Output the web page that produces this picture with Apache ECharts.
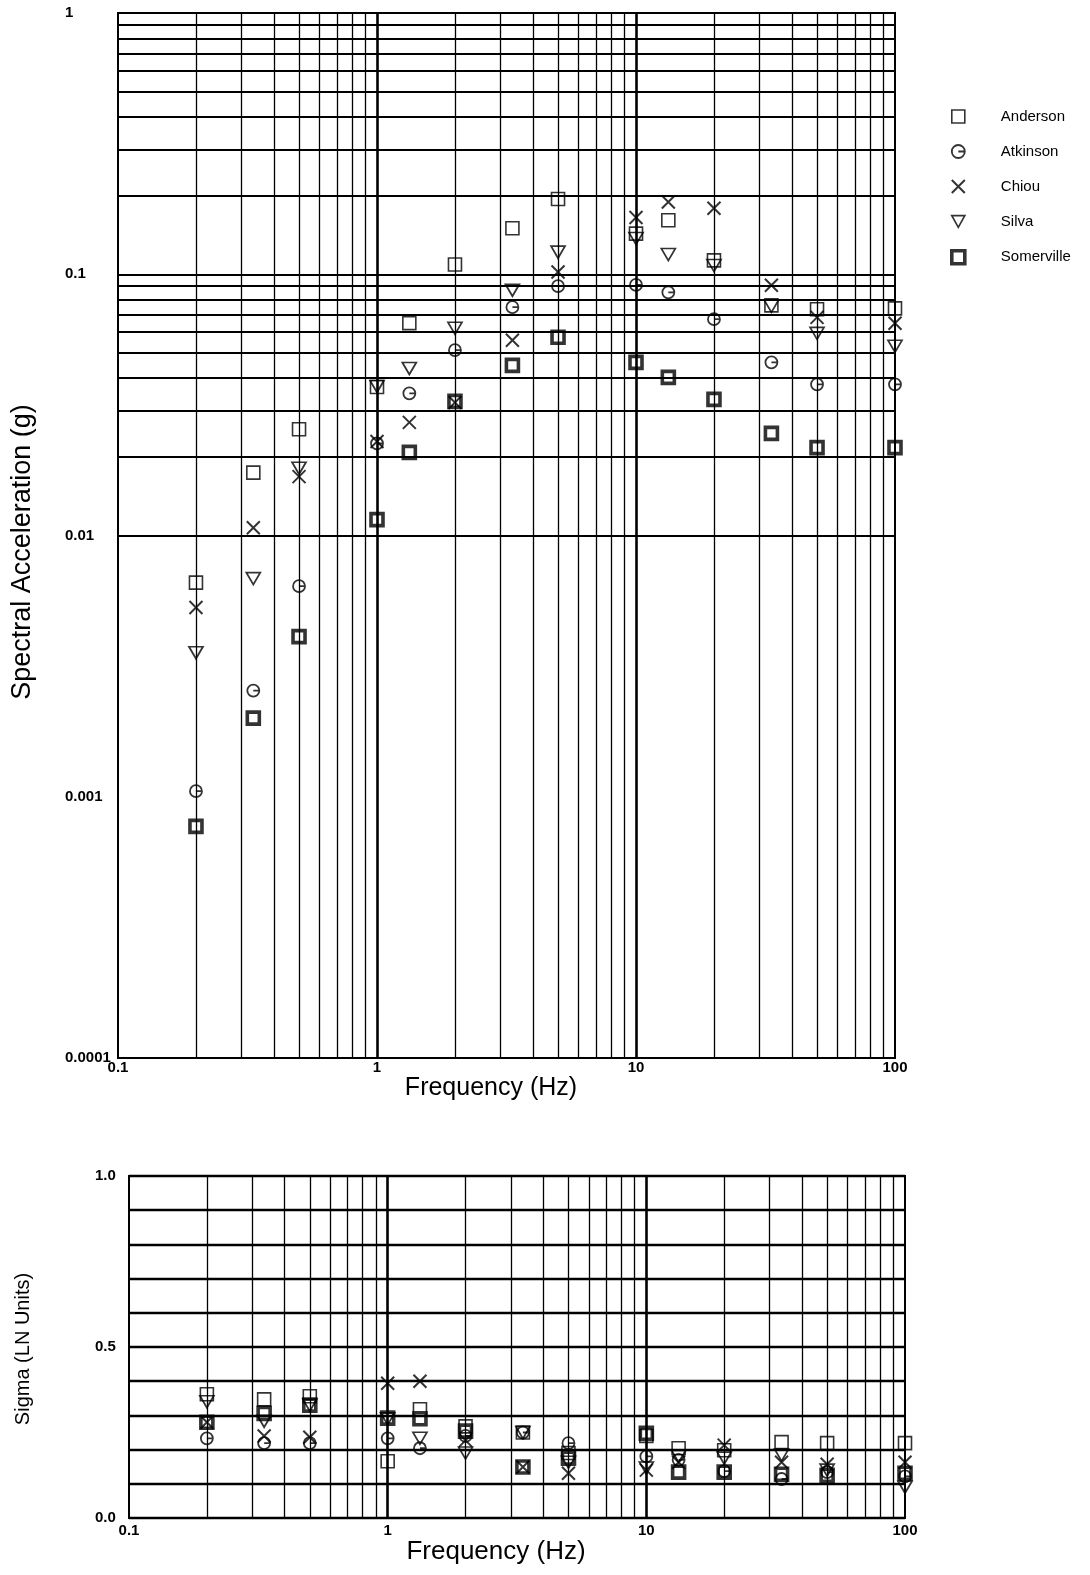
<!DOCTYPE html>
<html>
<head>
<meta charset="utf-8">
<script src="https://cdn.jsdelivr.net/npm/echarts@6/dist/echarts.min.js"></script>
<style>
  html, body { margin: 0; padding: 0; background: #fff; }
  #chart { width: 1090px; height: 1575px; }
</style>
</head>
<body>
<div id="chart"></div>
<script>
// Oscillator frequencies (Hz) shared by both panels
const frequencies = [0.2, 0.333, 0.5, 1, 1.333, 2, 3.333, 5, 10, 13.33, 20, 33.33, 50, 100];

// Median spectral acceleration (g) for each attenuation model
const saAnderson   = [0.0066, 0.0174, 0.0255, 0.037, 0.065, 0.109, 0.15, 0.194, 0.143, 0.161, 0.113, 0.076, 0.0735, 0.074];
const saAtkinson   = [0.00105, 0.00255, 0.0064, 0.0225, 0.035, 0.0512, 0.0748, 0.09, 0.091, 0.0853, 0.0673, 0.046, 0.0379, 0.0379];
const saChiou      = [0.0053, 0.0107, 0.0168, 0.0229, 0.0271, 0.0323, 0.0559, 0.102, 0.165, 0.189, 0.179, 0.0907, 0.0684, 0.0649];
const saSilva      = [0.00356, 0.00684, 0.0181, 0.0372, 0.0436, 0.0621, 0.0869, 0.1215, 0.137, 0.119, 0.108, 0.0754, 0.0594, 0.053];
const saSomerville = [0.00077, 0.002, 0.0041, 0.0115, 0.0208, 0.0326, 0.0448, 0.0574, 0.046, 0.0403, 0.0332, 0.0246, 0.0217, 0.0217];

// Aleatory variability (natural-log units)
const sgAnderson   = [0.362, 0.347, 0.356, 0.166, 0.318, 0.268, 0.25, 0.19, 0.24, 0.204, 0.198, 0.222, 0.219, 0.219];
const sgAtkinson   = [0.233, 0.219, 0.219, 0.233, 0.204, 0.24, 0.25, 0.219, 0.18, 0.17, 0.137, 0.114, 0.134, 0.122];
const sgChiou      = [0.28, 0.24, 0.236, 0.394, 0.40, 0.227, 0.149, 0.131, 0.14, 0.163, 0.213, 0.163, 0.157, 0.163];
const sgSilva      = [0.34, 0.283, 0.33, 0.29, 0.233, 0.19, 0.25, 0.163, 0.146, 0.18, 0.175, 0.184, 0.14, 0.09];
const sgSomerville = [0.28, 0.306, 0.33, 0.292, 0.29, 0.254, 0.149, 0.175, 0.248, 0.134, 0.134, 0.128, 0.125, 0.131];

const modelNames = ['Anderson', 'Atkinson', 'Chiou', 'Silva', 'Somerville'];
const saValues = [saAnderson, saAtkinson, saChiou, saSilva, saSomerville];
const sgValues = [sgAnderson, sgAtkinson, sgChiou, sgSilva, sgSomerville];

// Tick labels
const freqTickLabels = ['0.1', '1', '10', '100'];
const saTickLabels = ['0.0001', '0.001', '0.01', '0.1', '1'];
const sigmaTickLabels = { 0: '0.0', 5: '0.5', 10: '1.0' };

const FONT = 'Liberation Sans, Arial, Helvetica, sans-serif';

// Marker style per model
const markerStyles = {
  Anderson:   { symbol: 'rect', symbolSize: 13, itemStyle: { color: 'transparent', borderColor: '#000', borderWidth: 1.6 } },
  Atkinson:   { symbol: 'path://M10,5A5,5,0,1,1,0,5A5,5,0,1,1,10,5M5,5L10,5', symbolSize: 12, itemStyle: { color: 'transparent', borderColor: '#000', borderWidth: 1.8 } },
  Chiou:      { symbol: 'path://M0,0L10,10M10,0L0,10', symbolSize: 13, itemStyle: { color: 'transparent', borderColor: '#000', borderWidth: 2 } },
  Silva:      { symbol: 'path://M0,0L10,0L5,9Z', symbolSize: [14, 12], itemStyle: { color: 'transparent', borderColor: '#000', borderWidth: 1.7 } },
  Somerville: { symbol: 'rect', symbolSize: 12, itemStyle: { color: 'transparent', borderColor: '#000', borderWidth: 3.6 } }
};

// Grid line values for log decades: 1..9 x 10^e
function logGridValues(eLo, eHi) {
  const out = [];
  for (let e = eLo; e < eHi; e++) {
    for (let m = 1; m <= 9; m++) {
      if (e === eLo && m === 1) continue;
      out.push(+(m * Math.pow(10, e)).toPrecision(3));
    }
  }
  return out;
}
const freqGrid = logGridValues(-1, 2);
const saGrid = logGridValues(-4, 0);

function isDecade(v) {
  const l = Math.log10(v);
  return Math.abs(l - Math.round(l)) < 1e-6;
}

function verticalGrid(values) {
  return values.map(v => ({
    xAxis: v,
    lineStyle: { color: '#000', type: 'solid', width: isDecade(v) ? 2.6 : 1.3 }
  }));
}
function horizontalGrid(values, width) {
  return values.map(v => ({
    yAxis: v,
    lineStyle: { color: '#000', type: 'solid', width: width }
  }));
}

function gridSeries(idx, data) {
  return {
    type: 'scatter',
    xAxisIndex: idx,
    yAxisIndex: idx,
    data: [],
    silent: true,
    z: 1,
    markLine: {
      silent: true,
      symbol: ['none', 'none'],
      label: { show: false },
      animation: false,
      data: data
    }
  };
}

const series = [
  gridSeries(0, verticalGrid(freqGrid).concat(horizontalGrid(saGrid, 2.2))),
  gridSeries(1, verticalGrid(freqGrid))
];

modelNames.forEach((name, i) => {
  const st = markerStyles[name];
  series.push({
    name: name,
    type: 'scatter',
    xAxisIndex: 0,
    yAxisIndex: 0,
    z: 5,
    symbol: st.symbol,
    symbolSize: st.symbolSize,
    itemStyle: st.itemStyle,
    emphasis: { disabled: true },
    data: frequencies.map((f, k) => [f, saValues[i][k]])
  });
  series.push({
    name: name,
    type: 'scatter',
    xAxisIndex: 1,
    yAxisIndex: 1,
    z: 5,
    symbol: st.symbol,
    symbolSize: st.symbolSize,
    itemStyle: st.itemStyle,
    emphasis: { disabled: true },
    data: frequencies.map((f, k) => [f, sgValues[i][k]])
  });
});

const freqAxisBase = {
  type: 'log',
  logBase: 10,
  min: 0.1,
  max: 100,
  axisLine: { show: true, lineStyle: { color: '#000', width: 2 } },
  axisTick: { show: false },
  splitLine: { show: false },
  minorSplitLine: { show: false }
};

const option = {
  animation: false,
  backgroundColor: '#fff',
  textStyle: { fontFamily: FONT, color: '#000' },
  grid: [
    { left: 118, right: 195, top: 13, height: 1045, show: true, borderColor: '#000', borderWidth: 2, backgroundColor: 'transparent' },
    { left: 129, right: 185, top: 1176, height: 342, show: true, borderColor: '#000', borderWidth: 2, backgroundColor: 'transparent' }
  ],
  xAxis: [
    Object.assign({}, freqAxisBase, {
      gridIndex: 0,
      axisLabel: {
        margin: 2, fontSize: 15, fontWeight: 'bold', color: '#000', fontFamily: FONT,
        formatter: v => freqTickLabels[Math.round(Math.log10(v)) + 1]
      }
    }),
    Object.assign({}, freqAxisBase, {
      gridIndex: 1,
      axisLabel: {
        margin: 5, fontSize: 15, fontWeight: 'bold', color: '#000', fontFamily: FONT,
        formatter: v => freqTickLabels[Math.round(Math.log10(v)) + 1]
      }
    })
  ],
  yAxis: [
    {
      gridIndex: 0,
      type: 'log',
      logBase: 10,
      min: 0.0001,
      max: 1,
      axisLine: { show: true, lineStyle: { color: '#000', width: 2 } },
      axisTick: { show: false },
      splitLine: { show: false },
      axisLabel: {
        margin: 53, align: 'left', fontSize: 15, fontWeight: 'bold', color: '#000', fontFamily: FONT,
        formatter: v => saTickLabels[Math.round(Math.log10(v)) + 4]
      }
    },
    {
      gridIndex: 1,
      type: 'value',
      min: 0,
      max: 1,
      interval: 0.1,
      axisLine: { show: true, lineStyle: { color: '#000', width: 2 } },
      axisTick: { show: false },
      splitLine: { show: true, lineStyle: { color: '#000', width: 2.4 } },
      axisLabel: {
        margin: 34, align: 'left', fontSize: 15, fontWeight: 'bold', color: '#000', fontFamily: FONT,
        formatter: v => sigmaTickLabels[Math.round(v * 10)] || ''
      }
    }
  ],
  legend: {
    orient: 'vertical',
    left: 945,
    top: 104,
    itemWidth: 13,
    itemHeight: 13,
    itemGap: 20,
    selectedMode: false,
    textStyle: { fontSize: 15, fontFamily: FONT, color: '#000', padding: [0, 0, 0, 31] },
    data: modelNames.map(n => ({
      name: n,
      icon: markerStyles[n].symbol,
      itemStyle: markerStyles[n].itemStyle
    }))
  },
  series: series
};

// Axis titles placed as free text
option.graphic = [
  { type: 'text', x: 23, y: 552, rotation: Math.PI / 2,
    style: { text: 'Spectral Acceleration (g)', font: '27px ' + FONT, fill: '#000', align: 'center', verticalAlign: 'middle' } },
  { type: 'text', x: 491, y: 1088,
    style: { text: 'Frequency (Hz)', font: '25px ' + FONT, fill: '#000', align: 'center', verticalAlign: 'middle' } },
  { type: 'text', x: 23, y: 1349, rotation: Math.PI / 2,
    style: { text: 'Sigma (LN Units)', font: '20px ' + FONT, fill: '#000', align: 'center', verticalAlign: 'middle' } },
  { type: 'text', x: 496, y: 1552,
    style: { text: 'Frequency (Hz)', font: '26px ' + FONT, fill: '#000', align: 'center', verticalAlign: 'middle' } }
];

const chart = echarts.init(document.getElementById('chart'), null, { renderer: 'canvas' });
chart.setOption(option);
</script>
</body>
</html>
